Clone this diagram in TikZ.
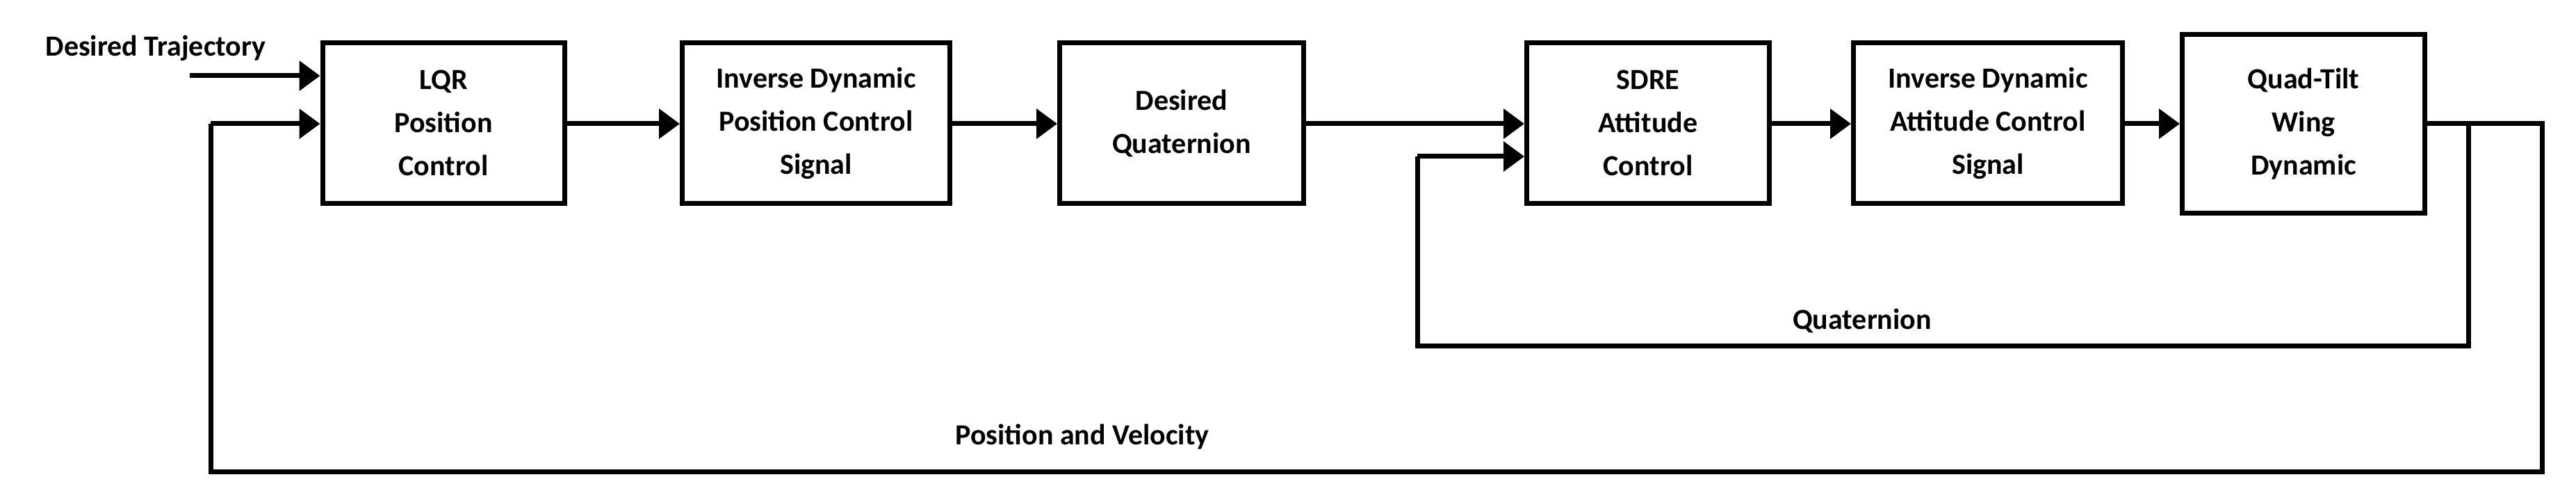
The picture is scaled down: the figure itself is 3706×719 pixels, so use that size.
\documentclass[tikz,border=0pt]{standalone}
\usepackage{fontspec}
\setmainfont{Carlito}
\usetikzlibrary{arrows.meta}
\begin{document}
\begin{tikzpicture}[x=1pt,y=-1pt,
  blk/.style={draw,line width=7pt,align=center,font=\fontsize{42}{62}\selectfont\bfseries,inner sep=0pt},
  con/.style={line width=7pt},
  arr/.style={con,-{Triangle[length=30pt,width=42pt]}},
  lbl/.style={font=\fontsize{42}{62}\selectfont\bfseries}]
\useasboundingbox (0,0) rectangle (3706,719);
\node[blk,minimum width=348pt,minimum height=231pt] (lqr) at (638,177) {LQR\\Position\\Control};
\node[blk,minimum width=385pt,minimum height=231pt] (ipc) at (1174,177) {Inverse Dynamic\\Position Control\\Signal};
\node[blk,minimum width=351pt,minimum height=231pt] (dq) at (1700,177) {Desired\\Quaternion};
\node[blk,minimum width=349pt,minimum height=231pt] (sdre) at (2371,177) {SDRE\\Attitude\\Control};
\node[blk,minimum width=387pt,minimum height=231pt] (iac) at (2860,177) {Inverse Dynamic\\Attitude Control\\Signal};
\node[blk,minimum width=349pt,minimum height=256pt] (qtw) at (3314,178) {Quad-Tilt\\Wing\\Dynamic};
\node[lbl] (dt) at (224,69) {Desired Trajectory};
\node[lbl] (pv) at (1557,628) {Position and Velocity};
\node[lbl] (qt) at (2679,461) {Quaternion};
\coordinate (in) at (273,109);
\coordinate (o1) at (3657,178);
\coordinate (o2) at (3657,678);
\coordinate (o3) at (303,678);
\coordinate (o4) at (303,178);
\coordinate (b1) at (3551,178);
\coordinate (b2) at (3551,497);
\coordinate (b3) at (2039,497);
\coordinate (b4) at (2039,225);
\draw[arr] (in) -- (in -| lqr.west);
\draw[arr] (lqr.east |- 0,178) -- (ipc.west |- 0,178);
\draw[arr] (ipc.east |- 0,178) -- (dq.west |- 0,178);
\draw[arr] (dq.east |- 0,178) -- (sdre.west |- 0,178);
\draw[arr] (sdre.east |- 0,178) -- (iac.west |- 0,178);
\draw[arr] (iac.east |- 0,178) -- (qtw.west |- 0,178);
\draw[con,line cap=square] (qtw.east |- 0,178) -- (o1) -- (o2) -- (o3) -- (o4);
\draw[arr] (o4) -- (o4 -| lqr.west);
\draw[con,line cap=square] (b1) -- (b2) -- (b3) -- (b4);
\draw[arr] (b4) -- (b4 -| sdre.west);
\end{tikzpicture}
\end{document}
